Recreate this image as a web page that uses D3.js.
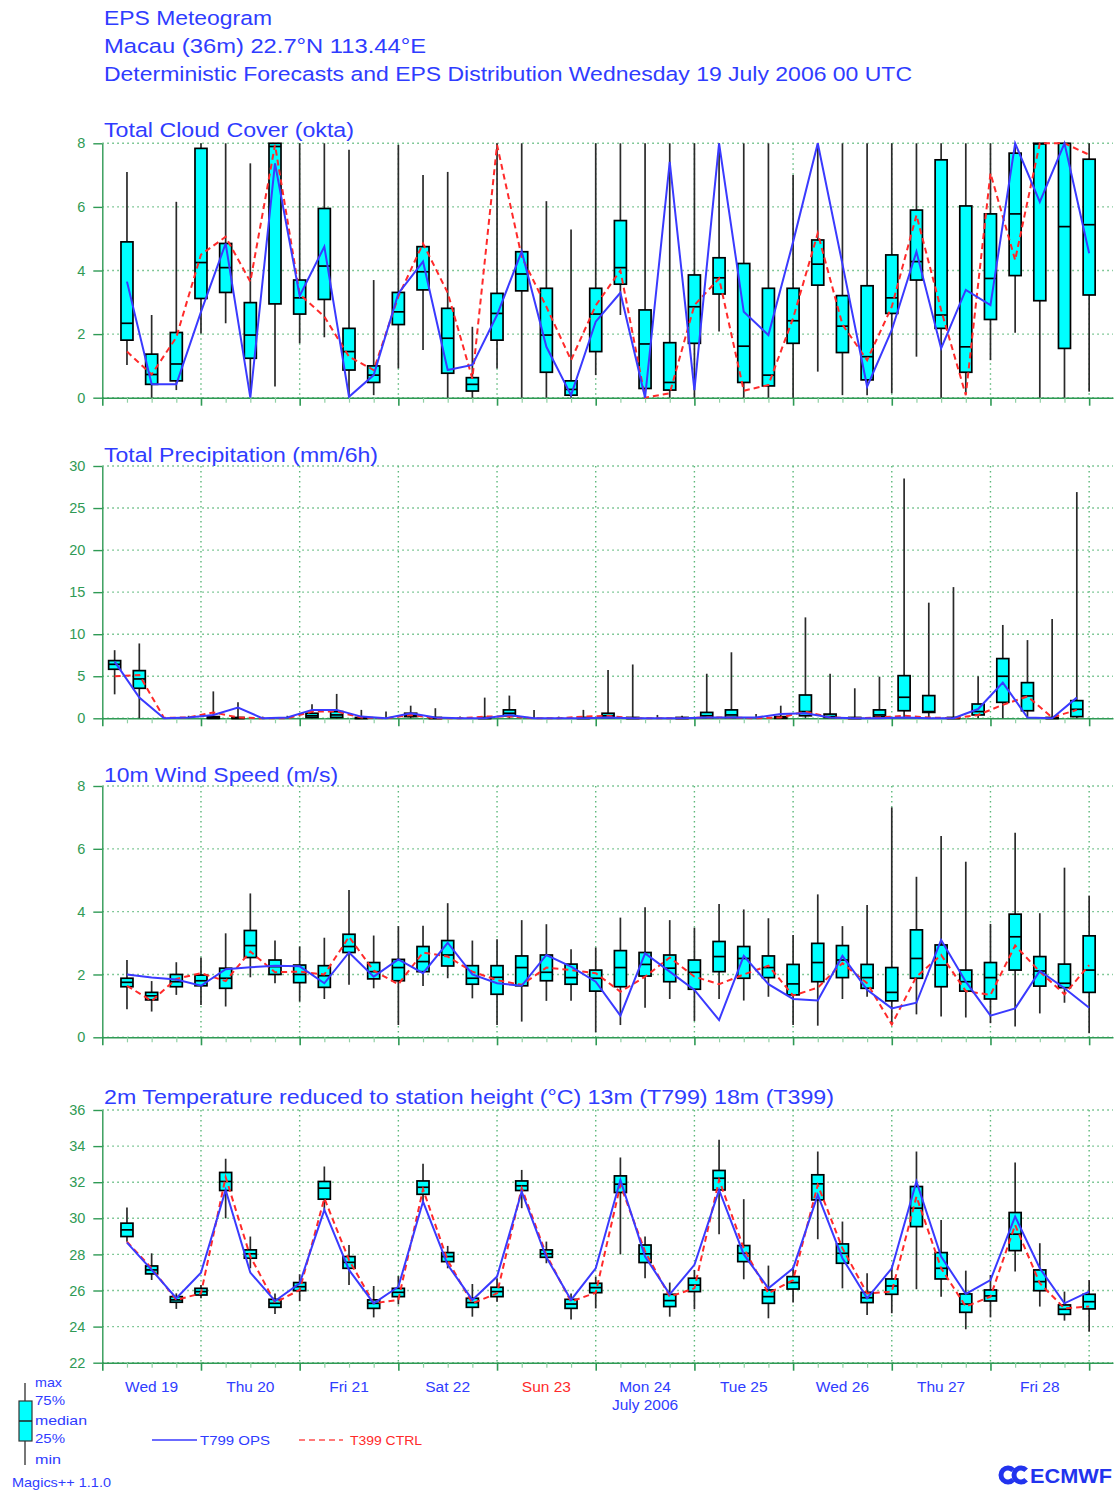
<!DOCTYPE html>
<html><head><meta charset="utf-8">
<script src="https://cdn.jsdelivr.net/npm/d3@7"></script>
<style>
body{margin:0;background:#fff}
svg{display:block}
text{font-family:"Liberation Sans",Arial,Helvetica,sans-serif}
</style>
</head><body>
<svg id="chart" width="1114" height="1490"></svg>
<script>
// ---------------- DATA ----------------
const stepHours = [6,12,18,24,30,36,42,48,54,60,66,72,78,84,90,96,102,108,114,120,126,132,138,144,150,156,162,168,174,180,186,192,198,204,210,216,222,228,234,240];
const precipHours = [3,9,15,21,27,33,39,45,51,57,63,69,75,81,87,93,99,105,111,117,123,129,135,141,147,153,159,165,171,177,183,189,195,201,207,213,219,225,231,237];
const dayLabels = ["Wed 19","Thu 20","Fri 21","Sat 22","Sun 23","Mon 24","Tue 25","Wed 26","Thu 27","Fri 28"];
const dayLabelHours = [12,36,60,84,108,132,156,180,204,228];
const dayBoundaryHours = [24,48,72,96,120,144,168,192,216,240];

// Total cloud cover (okta)
const cloudMin = [1.03,0,0.24,2.02,2.34,0.14,0.35,1.71,1.9,0.08,0.08,0.92,1.5,0,0,0.92,0,0,0,0.71,2.6,0,0,0,2.08,0,0,0,0.82,0.08,0.08,0.14,1.29,0,0.14,1.18,2.04,0,0,0.19];
const cloudQ1  = [1.81,0.42,0.53,3.12,3.31,1.24,2.95,2.63,3.09,0.87,0.48,2.3,3.39,0.77,0.21,1.81,3.36,0.8,0.08,1.45,3.57,0.29,0.24,1.71,3.26,0.48,0.37,1.71,3.54,1.42,0.56,2.65,3.7,2.18,0.8,2.46,3.84,3.05,1.55,3.23];
const cloudMed = [2.34,0.73,1.06,4.25,4.09,1.97,7.9,3.14,4.14,1.45,0.71,2.7,3.96,1.87,0.42,2.65,3.89,1.97,0.26,2.63,4.09,1.69,0.48,2.86,3.77,1.62,0.71,2.42,4.2,2.25,1.29,3.14,4.28,2.6,1.6,3.75,5.78,7.98,5.38,5.44];
const cloudQ3  = [4.9,1.37,2.05,7.84,4.85,2.99,8,3.7,5.95,2.18,1.0,3.31,4.75,2.81,0.63,3.28,4.59,3.44,0.53,3.44,5.57,2.76,1.73,3.86,4.4,4.22,3.44,3.44,4.96,3.21,3.52,4.49,5.9,7.48,6.03,5.78,7.69,8,8,7.5];
const cloudMax = [7.1,2.6,6.16,8,8,7.37,8,8,8,7.8,3.7,7.95,7.0,7.1,2.23,8,8,6.18,5.29,8,8,8,8,8,8,8,8,7.0,8,8,8,8,8,8,8,8,8,8,8,8];
const cloudOps = [3.65,0.42,0.42,2.7,4.85,0,7.37,3.2,4.75,0.03,0.71,3.28,4.28,0.87,1.03,2.6,4.6,1.6,0.08,2.39,3.3,0,7.42,0.24,8,2.7,1.97,4.9,8,4.2,0.35,2.13,4.59,1.55,3.39,2.91,8,6.16,8,4.54];
const cloudCtrl= [1.45,0.73,1.9,4.5,5.06,3.65,7.95,3.25,2.55,1.29,0.87,3.18,4.85,3.3,0.6,7.95,4.43,2.86,1.18,2.9,4.0,0,0.14,2.91,3.75,0.22,0.4,2.5,5.17,2.3,1.18,2.86,5.74,2.76,0.08,7.06,4.33,8,8,7.64];

// Total precipitation (mm/6h)
const precMin = [2.85,0,0,0,0,0,0,0,0,0,0,0,0,0,0,0,0,0,0,0,0,0,0,0,0,0,0,0,0,0,0,0,0,0,0,0,0,0,0,0];
const precQ1  = [5.83,3.57,0,0,0,0,0,0,0.1,0.1,0,0,0.2,0,0,0,0.3,0,0,0,0.1,0,0,0,0.1,0.1,0,0,0.3,0.1,0,0.2,0.9,0.7,0,0.4,1.9,0.9,0,0.2];
const precMed = [6.42,4.68,0,0,0,0,0,0,0.3,0.4,0,0,0.3,0,0,0,0.6,0,0,0,0.3,0,0,0,0.3,0.4,0,0.1,0.8,0.2,0,0.4,2.5,0.8,0,0.8,5.0,2.66,0,1.07];
const precQ3  = [6.86,5.67,0,0,0.2,0.1,0,0,0.6,0.8,0.1,0,0.6,0.1,0,0.1,1.0,0,0,0.1,0.6,0.1,0,0.1,0.7,1.0,0,0.2,2.77,0.5,0.1,1.0,5.07,2.7,0.1,1.7,7.1,4.24,0.1,2.1];
const precMax = [8.1,8.9,0.1,0.3,3.2,1.9,0.2,0.3,1.67,2.9,1.0,0.8,1.5,1.2,0.2,2.46,2.7,1.0,0.2,1.0,5.75,6.4,0.4,0.3,5.3,7.85,0.5,1.5,12.0,5.3,3.57,4.95,28.5,13.75,15.6,5.0,11.1,9.3,11.8,26.9];
const precOps = [6.74,2.46,0,0.1,0.4,1.27,0,0.1,1.0,1.0,0.2,0,0.6,0.1,0,0,0.4,0,0,0,0.1,0,0,0,0.1,0.1,0.1,0.5,0.6,0.1,0,0,0.1,0,0,1.1,4.24,0.1,0,2.46];
const precCtrl= [5.0,5.15,0.05,0.1,0.7,0.1,0,0,0.8,0.8,0.1,0,0.4,0,0,0.2,0.2,0,0,0.2,0.3,0,0,0,0.1,0.1,0,0.1,0.8,0.1,0,0.1,0.3,0.1,0,0.4,1.6,2.6,0.1,1.0];

// 10m wind speed (m/s)
const windMin = [0.89,0.82,1.35,1.03,0.98,1.91,1.72,1.14,1.22,1.67,1.56,0.39,1.63,1.88,1.24,0.39,0.5,1.16,1.16,0.16,0.39,0.94,1.22,0.52,1.22,1.17,1.29,0.39,0.37,1.22,1.29,0.39,0.73,0.66,0.63,0.45,0.34,0.76,1.1,0.13];
const windQ1  = [1.61,1.19,1.61,1.64,1.56,2.54,2.0,1.74,1.59,2.7,1.86,1.8,2.09,2.27,1.69,1.37,1.64,1.8,1.69,1.47,1.61,1.95,1.77,1.53,2.09,1.88,1.9,1.35,1.77,1.9,1.56,1.16,1.88,1.61,1.47,1.22,2.14,1.63,1.58,1.43];
const windMed = [1.75,1.32,1.77,1.8,1.88,2.92,2.25,2.0,1.96,2.89,2.09,2.22,2.41,2.62,1.88,1.91,2.22,2.07,1.9,1.88,2.22,2.32,2.2,2.07,2.57,2.51,2.22,1.7,2.38,2.46,1.9,1.43,2.51,2.3,1.77,1.9,3.2,2.11,1.72,2.14];
const windQ3  = [1.88,1.43,2.0,1.98,2.2,3.4,2.46,2.3,2.28,3.28,2.38,2.48,2.89,3.08,2.28,2.28,2.59,2.62,2.33,2.14,2.76,2.7,2.62,2.46,3.05,2.89,2.59,2.32,2.99,2.92,2.32,2.22,3.42,2.94,2.14,2.38,3.92,2.57,2.33,3.23];
const windMax = [2.46,1.79,2.39,2.54,3.31,4.58,3.08,2.89,3.17,4.69,3.24,3.54,3.55,4.27,3.08,3.12,3.73,3.6,2.8,2.86,3.81,4.14,3.73,3.49,4.24,4.07,3.79,3.26,4.55,3.54,4.21,7.32,5.11,6.41,5.59,3.61,6.51,3.95,5.4,4.51];
const windOps = [2.0,1.9,1.84,1.64,2.17,2.23,2.28,2.26,1.72,2.7,1.93,2.48,2.04,3.01,2.0,1.72,1.64,2.62,2.25,1.77,0.69,2.67,2.09,1.51,0.55,2.59,1.69,1.22,1.17,2.59,1.51,0.92,1.1,3.1,1.77,0.69,0.92,2.11,1.56,0.94];
const windCtrl= [1.64,1.16,1.86,2.04,1.79,2.73,2.07,2.09,2.0,3.2,2.12,1.69,2.7,2.57,2.09,1.82,1.67,2.22,2.14,2.04,1.45,1.93,2.54,1.93,1.69,2.0,2.28,1.33,1.58,2.36,1.72,0.41,1.93,2.62,1.47,1.35,2.92,2.09,1.37,2.3];

// 2m temperature (degC)
const tempMin = [28.7,26.58,24.98,25.57,30.0,27.23,24.7,25.42,30.47,26.3,24.51,25.23,30.74,27.23,24.55,25.38,30.56,27.51,24.4,25.01,28.0,26.68,24.55,24.96,29.12,26.62,24.46,25.33,28.84,26.12,24.64,24.74,26.07,25.66,23.85,24.51,27.05,25.11,24.33,23.72];
const tempQ1  = [28.99,26.92,25.35,25.75,31.54,27.79,25.07,25.99,31.06,27.23,25.01,25.66,31.33,27.6,25.07,25.66,31.54,27.84,25.01,25.88,31.43,27.55,25.11,25.94,31.57,27.6,25.29,26.08,31.02,27.51,25.33,25.79,29.54,26.64,24.79,25.42,28.21,25.99,24.68,24.98];
const tempMed = [29.36,27.14,25.48,25.94,32.04,28.03,25.29,26.21,31.67,27.56,25.29,25.9,31.72,27.88,25.33,25.94,31.8,28.03,25.25,26.16,31.89,28.03,25.44,26.3,32.22,28.06,25.66,26.44,31.91,28.06,25.6,26.25,30.56,27.23,25.25,25.7,29.12,26.49,24.96,25.38];
const tempQ3  = [29.73,27.36,25.66,26.12,32.54,28.25,25.51,26.44,32.04,27.88,25.48,26.12,32.07,28.1,25.57,26.18,32.07,28.25,25.51,26.4,32.35,28.52,25.79,26.68,32.65,28.49,26.03,26.77,32.41,28.58,25.9,26.64,31.76,28.1,25.81,26.03,30.32,27.14,25.2,25.79];
const tempMax = [30.6,28.06,25.84,26.3,33.3,28.99,25.84,26.9,32.87,28.52,26.25,26.8,33.02,28.47,26.36,26.68,32.68,28.71,25.84,26.77,33.37,28.99,26.44,27.14,34.35,31.06,27.38,27.32,33.7,29.82,26.95,27.32,33.7,29.91,27.1,26.86,33.09,28.62,25.94,26.58];
const tempOps = [28.65,27.14,25.57,26.99,31.57,26.99,25.42,26.4,30.47,27.14,25.29,26.21,30.93,27.42,25.48,26.77,31.48,27.84,25.48,27.23,32.13,27.88,25.79,27.42,31.57,28.0,26.12,27.23,31.3,27.79,25.57,27.23,32.04,27.88,25.81,26.58,30.1,27.23,25.29,25.94];
const tempCtrl= [28.7,27.23,25.48,25.84,32.28,27.88,25.33,26.03,31.11,27.69,25.29,25.48,31.61,27.66,25.29,25.84,31.67,27.97,25.38,25.88,31.85,28.16,25.66,26.12,32.13,28.34,25.84,26.58,31.85,28.34,25.84,25.94,31.2,27.23,25.11,25.66,29.63,26.4,25.01,25.11];

const cloudTicks = [0,2,4,6,8];
const precTicks = [0,5,10,15,20,25,30];
const windTicks = [0,2,4,6,8];
const tempTicks = [22,24,26,28,30,32,34,36];

// ---------------- STYLE ----------------
const GREEN = "#2f9a55";
const GRID = "#5cb87a";
const BLUE = "#2f3cff";
const OPSBLUE = "#3a3aff";
const RED = "#ff2a2a";
const CYAN = "#00ffff";

const svg = d3.select("#chart");
svg.append("rect").attr("width",1114).attr("height",1490).attr("fill","#fff");

const HMAX = 245.8;
const x = d3.scaleLinear().domain([0, HMAX]).range([102.3, 1113]);

// header
const header = [
  {t:"EPS Meteogram", y:25, w:168},
  {t:"Macau (36m) 22.7\u00B0N 113.44\u00B0E", y:53, w:322},
  {t:"Deterministic Forecasts and EPS Distribution Wednesday 19 July 2006 00 UTC", y:81, w:808}
];
svg.selectAll("text.hdr").data(header).join("text").attr("class","hdr")
  .attr("x",104).attr("y",d=>d.y).attr("fill",BLUE).attr("font-size",20.5)
  .attr("textLength",d=>d.w).attr("lengthAdjust","spacingAndGlyphs").text(d=>d.t);

function panel(cfg){
  const y = d3.scaleLinear().domain(cfg.domain).range([cfg.bottom, cfg.top]);
  const g = svg.append("g");
  // horizontal grid
  g.selectAll("line.hg").data(cfg.ticks).join("line")
    .attr("x1",x(0)).attr("x2",x(HMAX)).attr("y1",d=>y(d)).attr("y2",d=>y(d))
    .attr("stroke",GRID).attr("stroke-width",1.4).attr("stroke-dasharray","1.5,3.5");
  // vertical day grid
  g.selectAll("line.vg").data(dayBoundaryHours).join("line")
    .attr("x1",d=>x(d)).attr("x2",d=>x(d)).attr("y1",cfg.top).attr("y2",cfg.bottom)
    .attr("stroke",GRID).attr("stroke-width",1.4).attr("stroke-dasharray","1.5,3.5");
  // left axis
  const ax = g.append("g").attr("transform",`translate(${x(0)},0)`)
    .call(d3.axisLeft(y).tickValues(cfg.ticks).tickSize(9).tickSizeOuter(0).tickPadding(8).tickFormat(d3.format("d")));
  ax.selectAll("path,line").attr("stroke",GREEN).attr("stroke-width",1.4);
  ax.selectAll("text").attr("fill",GREEN).attr("font-size",14.5).attr("font-family",'"Liberation Sans",Arial,sans-serif');
  // bottom axis
  const minorHours = d3.range(0, 241, 6);
  const bx = g.append("g").attr("transform",`translate(0,${cfg.bottom})`)
    .call(d3.axisBottom(x).tickValues(minorHours).tickSize(5).tickSizeOuter(0).tickFormat(""));
  bx.select(".domain").attr("stroke",GREEN).attr("stroke-width",1.6);
  bx.selectAll(".tick line").attr("stroke",d=> d%24===0 ? GREEN : "#8fd0a4").attr("stroke-width",d=> d%24===0 ? 1.6 : 1.2)
    .attr("y2",d=> d%24===0 ? 8 : 5);
  // title
  g.append("text").attr("x",104).attr("y",cfg.titleY).attr("fill",BLUE).attr("font-size",20.5)
    .attr("textLength",cfg.titleW).attr("lengthAdjust","spacingAndGlyphs").text(cfg.title);

  const n = cfg.hours.length;
  const idx = d3.range(n);
  const bw = 12;
  // whiskers
  g.selectAll("line.wh").data(idx.filter(i=>cfg.max[i]>cfg.min[i])).join("line")
    .attr("x1",i=>x(cfg.hours[i])).attr("x2",i=>x(cfg.hours[i]))
    .attr("y1",i=>y(cfg.min[i])).attr("y2",i=>y(cfg.max[i]))
    .attr("stroke","#2a2a2a").attr("stroke-width",1.7);
  // boxes
  const bidx = idx.filter(i=>cfg.q3[i]>cfg.q1[i]);
  g.selectAll("rect.bx").data(bidx).join("rect")
    .attr("x",i=>x(cfg.hours[i])-bw/2).attr("width",bw)
    .attr("y",i=>y(cfg.q3[i])).attr("height",i=>Math.max(1,y(cfg.q1[i])-y(cfg.q3[i])))
    .attr("fill",CYAN).attr("stroke","#000").attr("stroke-width",1.7);
  g.selectAll("line.md").data(bidx).join("line")
    .attr("x1",i=>x(cfg.hours[i])-bw/2).attr("x2",i=>x(cfg.hours[i])+bw/2)
    .attr("y1",i=>y(cfg.med[i])).attr("y2",i=>y(cfg.med[i]))
    .attr("stroke","#000").attr("stroke-width",1.7);
  // lines
  const ln = v => d3.line().x(i=>x(cfg.hours[i])).y(i=>y(v[i]))(idx);
  g.append("path").attr("d",ln(cfg.ctrl)).attr("fill","none").attr("stroke",RED)
    .attr("stroke-width",2).attr("stroke-dasharray","6,4");
  g.append("path").attr("d",ln(cfg.ops)).attr("fill","none").attr("stroke",OPSBLUE)
    .attr("stroke-width",2);
  return y;
}

panel({top:143.3,bottom:397.7,domain:[0,8],ticks:cloudTicks,title:"Total Cloud Cover (okta)",titleY:137,titleW:250,
  hours:stepHours,min:cloudMin,q1:cloudQ1,med:cloudMed,q3:cloudQ3,max:cloudMax,ops:cloudOps,ctrl:cloudCtrl});
panel({top:466,bottom:718.3,domain:[0,30],ticks:precTicks,title:"Total Precipitation (mm/6h)",titleY:462,titleW:274,
  hours:precipHours,min:precMin,q1:precQ1,med:precMed,q3:precQ3,max:precMax,ops:precOps,ctrl:precCtrl});
panel({top:786,bottom:1037.3,domain:[0,8],ticks:windTicks,title:"10m Wind Speed (m/s)",titleY:782,titleW:234,
  hours:stepHours,min:windMin,q1:windQ1,med:windMed,q3:windQ3,max:windMax,ops:windOps,ctrl:windCtrl});
panel({top:1110,bottom:1362.7,domain:[22,36],ticks:tempTicks,title:"2m Temperature reduced to station height (\u00B0C) 13m (T799) 18m (T399)",titleY:1104,titleW:730,
  hours:stepHours,min:tempMin,q1:tempQ1,med:tempMed,q3:tempQ3,max:tempMax,ops:tempOps,ctrl:tempCtrl});

// day labels
svg.selectAll("text.day").data(dayLabels).join("text").attr("class","day")
  .attr("x",(d,i)=>x(dayLabelHours[i])).attr("y",1392).attr("text-anchor","middle")
  .attr("font-size",15.5).attr("fill",d=>d.startsWith("Sun") ? RED : BLUE).text(d=>d);
svg.append("text").attr("x",x(dayLabelHours[5])).attr("y",1410).attr("text-anchor","middle")
  .attr("font-size",15.5).attr("fill",BLUE).text("July 2006");

// box legend
const lg = svg.append("g");
lg.append("line").attr("x1",25).attr("x2",25).attr("y1",1383).attr("y2",1465).attr("stroke","#777").attr("stroke-width",2);
lg.append("rect").attr("x",19).attr("y",1401).attr("width",13).attr("height",40).attr("fill",CYAN).attr("stroke","#333").attr("stroke-width",1.2);
lg.append("line").attr("x1",19).attr("x2",32).attr("y1",1421).attr("y2",1421).attr("stroke","#222").attr("stroke-width",1.5);
const legLabels = [{t:"max",y:1387,w:27},{t:"75%",y:1405,w:30},{t:"median",y:1425,w:52},{t:"25%",y:1443,w:30},{t:"min",y:1464,w:26}];
lg.selectAll("text").data(legLabels).join("text").attr("x",35).attr("y",d=>d.y).attr("font-size",13)
  .attr("fill",BLUE).attr("textLength",d=>d.w).attr("lengthAdjust","spacingAndGlyphs").text(d=>d.t);
svg.append("text").attr("x",12).attr("y",1487).attr("font-size",13).attr("fill",BLUE)
  .attr("textLength",99).attr("lengthAdjust","spacingAndGlyphs").text("Magics++ 1.1.0");

// line legend
svg.append("line").attr("x1",152).attr("x2",197).attr("y1",1440).attr("y2",1440).attr("stroke","#6b6bff").attr("stroke-width",2);
svg.append("text").attr("x",200).attr("y",1445).attr("font-size",13.5).attr("fill",BLUE)
  .attr("textLength",70).attr("lengthAdjust","spacingAndGlyphs").text("T799 OPS");
svg.append("line").attr("x1",299).attr("x2",343).attr("y1",1440).attr("y2",1440).attr("stroke","#ff7a7a").attr("stroke-width",2).attr("stroke-dasharray","6,4");
svg.append("text").attr("x",350).attr("y",1445).attr("font-size",13.5).attr("fill",RED)
  .attr("textLength",72).attr("lengthAdjust","spacingAndGlyphs").text("T399 CTRL");

// ECMWF logo
const arc = d3.arc().innerRadius(4.5).outerRadius(9.5).startAngle(Math.PI/2+0.75).endAngle(Math.PI/2+2*Math.PI-0.75);
svg.append("path").attr("d",arc()).attr("transform","translate(1008,1475)").attr("fill","#2233ee");
svg.append("path").attr("d",arc()).attr("transform","translate(1021,1475)").attr("fill","#2233ee");
svg.append("text").attr("x",1030).attr("y",1483).attr("font-size",20).attr("font-weight","bold")
  .attr("fill","#2233ee").attr("textLength",82).attr("lengthAdjust","spacingAndGlyphs").text("ECMWF");
</script>
</body></html>
